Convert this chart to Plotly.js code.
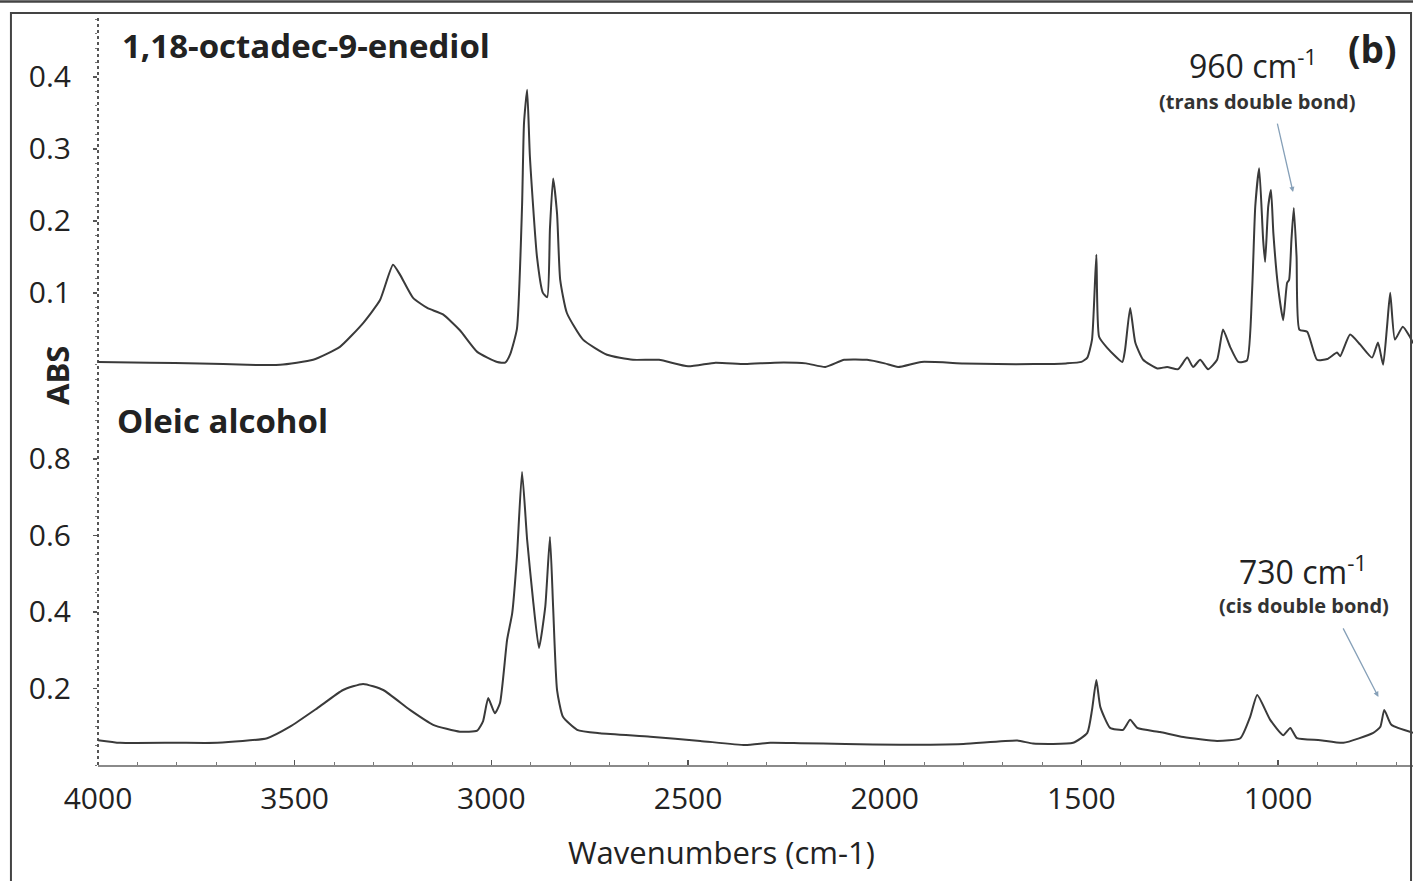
<!DOCTYPE html>
<html>
<head>
<meta charset="utf-8">
<script src="https://cdn.plot.ly/plotly-3.0.1.min.js"></script>
<style>
  html, body { margin: 0; padding: 0; background: #ffffff; }
  #chart { width: 1413px; height: 881px; }
</style>
</head>
<body>
<div id="chart"></div>
<script>
// FTIR absorbance spectra (wavenumber in cm-1, absorbance)
const dielWavenumber = [4000, 3868, 3741, 3621, 3537, 3453, 3385, 3326, 3283, 3250, 3232, 3199, 3163, 3123, 3080, 3036, 2985, 2965, 2952, 2935, 2922, 2917, 2909, 2902, 2884, 2869, 2858, 2851, 2843, 2833, 2825, 2808, 2767, 2706, 2640, 2574, 2500, 2430, 2355, 2280, 2200, 2151, 2103, 2045, 2000, 1966, 1907, 1800, 1714, 1620, 1539, 1500, 1485, 1473, 1462, 1455, 1435, 1396, 1389, 1376, 1363, 1343, 1307, 1282, 1254, 1231, 1216, 1198, 1178, 1155, 1140, 1122, 1101, 1079, 1066, 1058, 1048, 1038, 1033, 1025, 1018, 1012, 1000, 987, 977, 972, 966, 960, 953, 946, 926, 901, 875, 850, 842, 817, 791, 761, 746, 733, 723, 715, 703, 683, 665, 657];
const dielAbs = [0.004, 0.003, 0.002, 0.0, 0.0, 0.007, 0.025, 0.058, 0.09, 0.139, 0.125, 0.093, 0.079, 0.07, 0.048, 0.018, 0.004, 0.003, 0.015, 0.05, 0.22, 0.336, 0.382, 0.289, 0.15, 0.1, 0.094, 0.19, 0.259, 0.21, 0.118, 0.072, 0.035, 0.014, 0.007, 0.007, -0.002, 0.003, 0.001, 0.003, 0.002, -0.003, 0.007, 0.007, 0.002, -0.003, 0.004, 0.002, 0.001, 0.001, 0.002, 0.004, 0.01, 0.035, 0.153, 0.039, 0.024, 0.004, 0.021, 0.079, 0.031, 0.007, -0.005, -0.003, -0.006, 0.01, -0.003, 0.007, -0.006, 0.007, 0.049, 0.025, 0.004, 0.006, 0.104, 0.22, 0.273, 0.174, 0.143, 0.22, 0.243, 0.183, 0.108, 0.062, 0.114, 0.118, 0.174, 0.218, 0.15, 0.049, 0.046, 0.007, 0.008, 0.017, 0.012, 0.042, 0.028, 0.01, 0.031, 0.0, 0.053, 0.1, 0.035, 0.053, 0.039, 0.03];

const oleicWavenumber = [4000, 3944, 3800, 3697, 3570, 3512, 3443, 3377, 3326, 3275, 3207, 3148, 3080, 3036, 3021, 3008, 2991, 2978, 2960, 2947, 2935, 2922, 2909, 2894, 2879, 2863, 2851, 2843, 2833, 2818, 2782, 2724, 2596, 2469, 2355, 2291, 2215, 2100, 1961, 1800, 1663, 1623, 1521, 1485, 1473, 1462, 1452, 1427, 1394, 1376, 1358, 1300, 1241, 1155, 1096, 1071, 1053, 1020, 987, 969, 952, 893, 834, 758, 740, 730, 712, 657];
const oleicAbs = [0.065, 0.058, 0.058, 0.058, 0.07, 0.1, 0.148, 0.196, 0.212, 0.196, 0.144, 0.105, 0.087, 0.09, 0.115, 0.175, 0.135, 0.162, 0.327, 0.397, 0.544, 0.766, 0.588, 0.431, 0.306, 0.413, 0.596, 0.413, 0.196, 0.126, 0.092, 0.083, 0.074, 0.063, 0.052, 0.058, 0.057, 0.055, 0.053, 0.055, 0.064, 0.056, 0.058, 0.084, 0.144, 0.222, 0.152, 0.097, 0.092, 0.118, 0.097, 0.086, 0.073, 0.063, 0.07, 0.126, 0.183, 0.118, 0.078, 0.097, 0.07, 0.065, 0.058, 0.084, 0.1, 0.144, 0.105, 0.084];

const xTickValues = [4000, 3500, 3000, 2500, 2000, 1500, 1000];
const dielTicks = [0.1, 0.2, 0.3, 0.4];
const oleicTicks = [0.2, 0.4, 0.6, 0.8];

const FONT = '"Open Sans", "Noto Sans", sans-serif';
const INK = '#222222';
const LINE = '#3a3a3a';
const ARROW = '#86a0b8';

const traces = [
  {
    x: dielWavenumber, y: dielAbs, xaxis: 'x', yaxis: 'y2',
    type: 'scatter', mode: 'lines', name: '1,18-octadec-9-enediol',
    line: { color: LINE, width: 2, shape: 'spline', smoothing: 0.5 }, hoverinfo: 'x+y'
  },
  {
    x: oleicWavenumber, y: oleicAbs, xaxis: 'x', yaxis: 'y',
    type: 'scatter', mode: 'lines', name: 'Oleic alcohol',
    line: { color: LINE, width: 2, shape: 'spline', smoothing: 0.5 }, hoverinfo: 'x+y'
  }
];

const yCommon = {
  anchor: 'x',
  showline: false,
  showgrid: false,
  zeroline: false,
  ticks: 'outside',
  ticklen: 4,
  tickcolor: '#555',
  tickwidth: 1.5,
  ticklabelstandoff: 16,
  tickfont: { family: FONT, size: 30, color: INK },
  minor: { ticks: 'outside', ticklen: 2, tickcolor: '#777', tickwidth: 1 }
};

const layout = {
  width: 1413,
  height: 881,
  margin: { l: 98, r: 0, t: 15, b: 116 },
  paper_bgcolor: '#ffffff',
  plot_bgcolor: '#ffffff',
  showlegend: false,
  font: { family: FONT, color: INK },
  xaxis: {
    anchor: 'y',
    range: [4000, 657],
    tickvals: xTickValues,
    ticktext: xTickValues.map(String),
    showline: true,
    linecolor: '#8a8a8a',
    linewidth: 2,
    showgrid: false,
    zeroline: false,
    ticks: 'inside',
    ticklen: 5,
    tickcolor: '#555',
    tickwidth: 1.5,
    ticklabelstandoff: 6,
    tickfont: { family: FONT, size: 30, color: INK },
    minor: { dtick: 100, ticks: 'inside', ticklen: 3, tickcolor: '#777', tickwidth: 1 }
  },
  yaxis: Object.assign({}, yCommon, {
    domain: [0, 0.4933],
    range: [0, 0.967],
    tickvals: oleicTicks,
    minor: Object.assign({}, yCommon.minor, { dtick: 0.05 })
  }),
  yaxis2: Object.assign({}, yCommon, {
    domain: [0.5067, 1],
    range: [-0.028, 0.486],
    tickvals: dielTicks,
    minor: Object.assign({}, yCommon.minor, { dtick: 0.02 })
  }),
  shapes: [
    // dotted vertical axis running through both panels
    { type: 'line', xref: 'paper', yref: 'paper', x0: 0, x1: 0, y0: 0, y1: 1.0,
      line: { color: '#444', width: 1.8, dash: 'dot' } },
    // outer frame
    { type: 'rect', xref: 'paper', yref: 'paper', x0: -0.0662, x1: 0.9985, y0: -0.16, y1: 1.0027,
      line: { color: '#444', width: 2 }, fillcolor: 'rgba(0,0,0,0)' },
    { type: 'line', xref: 'paper', yref: 'paper', x0: -0.08, x1: 1.0, y0: 1.018, y1: 1.018,
      line: { color: '#444', width: 2.5 } }
  ],
  annotations: [
    { xref: 'paper', yref: 'paper', x: 0.0167, y: 0.96, xanchor: 'left', yanchor: 'middle',
      text: '<b>1,18-octadec-9-enediol</b>', showarrow: false,
      font: { family: FONT, size: 33, color: INK } },
    { xref: 'paper', yref: 'paper', x: 0.0129, y: 0.46, xanchor: 'left', yanchor: 'middle',
      text: '<b>Oleic alcohol</b>', showarrow: false,
      font: { family: FONT, size: 33, color: INK } },
    { xref: 'paper', yref: 'paper', x: 0.9695, y: 0.955, xanchor: 'center', yanchor: 'middle',
      text: '<b>(b)</b>', showarrow: false,
      font: { family: FONT, size: 37, color: INK } },
    { xref: 'paper', yref: 'paper', x: -0.0312, y: 0.52, xanchor: 'center', yanchor: 'middle',
      text: '<b>ABS</b>', textangle: -90, showarrow: false,
      font: { family: FONT, size: 31, color: INK } },
    { xref: 'paper', yref: 'paper', x: 0.4745, y: -0.116, xanchor: 'center', yanchor: 'middle',
      text: 'Wavenumbers (cm-1)', showarrow: false,
      font: { family: FONT, size: 31, color: INK } },
    // band assignments
    { xref: 'paper', yref: 'paper', x: 0.878, y: 0.9013, xanchor: 'center', yanchor: 'bottom',
      text: '960 cm<sup>-1</sup>', showarrow: false,
      font: { family: FONT, size: 32, color: INK } },
    { xref: 'paper', yref: 'paper', x: 0.881, y: 0.9053, xanchor: 'center', yanchor: 'top',
      text: '<b>(trans double bond)</b>', showarrow: false,
      font: { family: FONT, size: 20, color: '#333' } },
    { xref: 'paper', yref: 'paper', x: 0.916, y: 0.2273, xanchor: 'center', yanchor: 'bottom',
      text: '730 cm<sup>-1</sup>', showarrow: false,
      font: { family: FONT, size: 32, color: INK } },
    { xref: 'paper', yref: 'paper', x: 0.917, y: 0.234, xanchor: 'center', yanchor: 'top',
      text: '<b>(cis double bond)</b>', showarrow: false,
      font: { family: FONT, size: 20, color: '#333' } },
    // pointers to the two bands
    { xref: 'x', yref: 'y2', x: 962, y: 0.24, ax: -16, ay: -70, text: '',
      showarrow: true, arrowhead: 2, arrowsize: 0.8, arrowwidth: 1.3, arrowcolor: ARROW },
    { xref: 'x', yref: 'y', x: 745, y: 0.178, ax: -36, ay: -70, text: '',
      showarrow: true, arrowhead: 2, arrowsize: 0.8, arrowwidth: 1.3, arrowcolor: ARROW }
  ]
};

Plotly.newPlot('chart', traces, layout, { displayModeBar: false, staticPlot: true });
</script>
</body>
</html>
